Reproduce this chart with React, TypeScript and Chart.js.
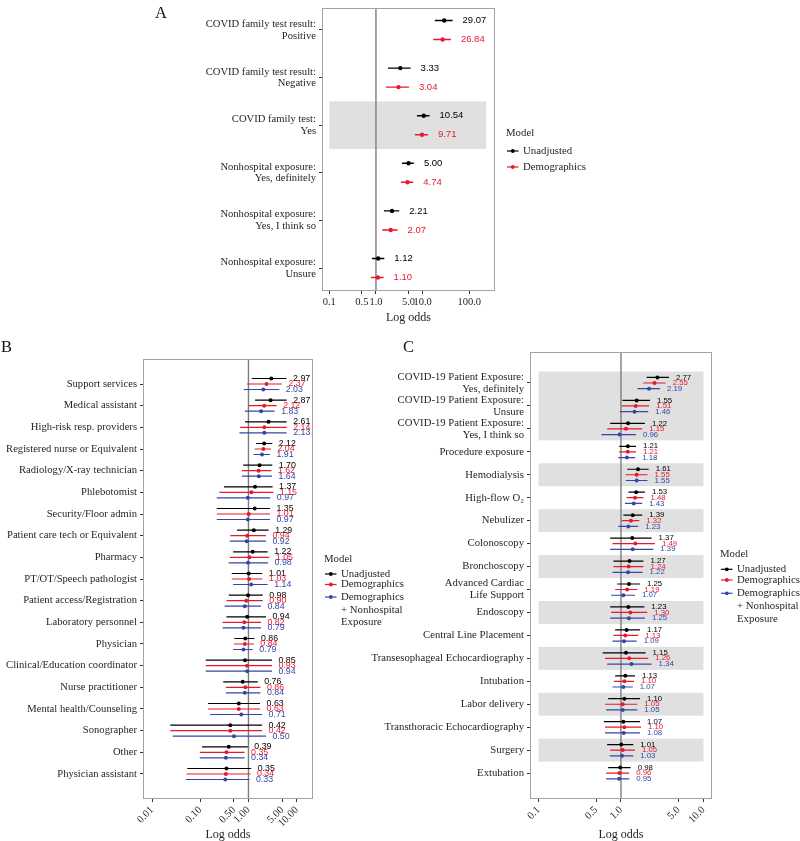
import React, { useEffect, useRef } from 'react';
import { Chart, registerables } from 'chart.js';
Chart.register(...registerables);

const SERIF = "'Liberation Serif', 'Times New Roman', serif";
const NARROW = "'Liberation Sans Narrow', 'Arial Narrow', 'Liberation Sans', sans-serif";
const TEXT = '#1f1f1f';
const BAND = '#E0E0E0';

// ---- series ----
const seriesNames = ['Unadjusted', 'Demographics', 'Demographics + Nonhospital Exposure'];
const seriesLegendLines = [['Unadjusted'], ['Demographics'], ['Demographics', '+ Nonhospital', 'Exposure']];
const seriesColors = ['#000000', '#E8192C', '#3646A6'];

// ---- Panel A ----
const aRows = [
  ['COVID family test result:', 'Positive'],
  ['COVID family test result:', 'Negative'],
  ['COVID family test:', 'Yes'],
  ['Nonhospital exposure:', 'Yes, definitely'],
  ['Nonhospital exposure:', 'Yes, I think so'],
  ['Nonhospital exposure:', 'Unsure'],
];
const aUnadjEst = [29.07, 3.33, 10.54, 5.0, 2.21, 1.12];
const aUnadjLo = [18.3, 1.81, 7.55, 3.6, 1.48, 0.82];
const aUnadjHi = [43.9, 5.53, 14.1, 6.5, 3.16, 1.51];
const aDemoEst = [26.84, 3.04, 9.71, 4.74, 2.07, 1.1];
const aDemoLo = [16.9, 1.64, 6.84, 3.43, 1.36, 0.78];
const aDemoHi = [40.4, 5.09, 13.0, 6.3, 2.91, 1.46];
const aTicks = [0.1, 0.5, 1, 5, 10, 100];
const aTickLabels = ['0.1', '0.5', '1.0', '5.0', '10.0', '100.0'];
const aBands: [number, number][] = [[2, 2]];
const aBandX: [number, number] = [0.1, 230];

// ---- Panel B ----
const bRows = [
  'Support services', 'Medical assistant', 'High-risk resp. providers', 'Registered nurse or Equivalent',
  'Radiology/X-ray technician', 'Phlebotomist', 'Security/Floor admin', 'Patient care tech or Equivalent',
  'Pharmacy', 'PT/OT/Speech pathologist', 'Patient access/Registration', 'Laboratory personnel', 'Physician',
  'Clinical/Education coordinator', 'Nurse practitioner', 'Mental health/Counseling', 'Sonographer', 'Other',
  'Physician assistant',
];
const bUnadjEst = [2.97, 2.87, 2.61, 2.12, 1.70, 1.37, 1.35, 1.29, 1.22, 1.01, 0.98, 0.94, 0.86, 0.85, 0.76, 0.63, 0.42, 0.39, 0.35];
const bUnadjLo = [1.17, 1.37, 0.85, 1.44, 0.78, 0.31, 0.22, 0.58, 0.48, 0.45, 0.39, 0.35, 0.51, 0.13, 0.30, 0.145, 0.024, 0.109, 0.054];
const bUnadjHi = [6.17, 6.2, 6.2, 3.12, 3.12, 3.17, 2.8, 2.62, 2.5, 1.94, 1.98, 2.31, 1.33, 3.08, 1.56, 1.74, 1.92, 0.97, 1.14];
const bDemoEst = [2.37, 2.12, 2.14, 2.04, 1.62, 1.15, 1.01, 0.94, 1.05, 1.03, 0.90, 0.82, 0.84, 0.93, 0.86, 0.63, 0.42, 0.35, 0.34];
const bDemoLo = [0.94, 1.0, 0.67, 1.35, 0.73, 0.25, 0.22, 0.42, 0.41, 0.45, 0.35, 0.29, 0.50, 0.13, 0.34, 0.145, 0.024, 0.098, 0.052];
const bDemoHi = [4.95, 3.84, 6.2, 2.93, 2.98, 3.28, 2.8, 2.31, 2.71, 1.96, 1.98, 1.82, 1.29, 3.08, 1.77, 1.74, 1.92, 0.83, 1.1];
const bNonhEst = [2.03, 1.83, 2.13, 1.91, 1.64, 0.97, 0.97, 0.92, 0.98, 1.14, 0.84, 0.79, 0.79, 0.94, 0.84, 0.71, 0.50, 0.34, 0.33];
const bNonhLo = [0.80, 0.84, 0.65, 1.27, 0.73, 0.22, 0.22, 0.41, 0.39, 0.48, 0.32, 0.29, 0.48, 0.13, 0.34, 0.16, 0.027, 0.098, 0.05];
const bNonhHi = [4.35, 3.49, 6.2, 2.8, 3.08, 2.84, 2.8, 2.31, 2.55, 2.5, 1.82, 1.82, 1.23, 3.08, 1.77, 1.92, 2.31, 0.83, 1.05];
const bTicks = [0.01, 0.1, 0.5, 1, 5, 10];
const bTickLabels = ['0.01', '0.10', '0.50', '1.00', '5.00', '10.00'];

// ---- Panel C ----
const cRows = [
  ['COVID-19 Patient Exposure:', 'Yes, definitely'],
  ['COVID-19 Patient Exposure:', 'Unsure'],
  ['COVID-19 Patient Exposure:', 'Yes, I think so'],
  'Procedure exposure', 'Hemodialysis', 'High-flow O\u2082', 'Nebulizer', 'Colonoscopy', 'Bronchoscopy',
  ['Advanced Cardiac', 'Life Support'], 'Endoscopy', 'Central Line Placement', 'Transesophageal Echocardiography',
  'Intubation', 'Labor delivery', 'Transthoracic Echocardiography', 'Surgery', 'Extubation',
];
const cUnadjEst = [2.77, 1.55, 1.22, 1.21, 1.61, 1.53, 1.39, 1.37, 1.27, 1.25, 1.23, 1.17, 1.15, 1.13, 1.10, 1.07, 1.01, 0.98];
const cUnadjLo = [2.05, 1.04, 0.74, 0.95, 1.19, 1.23, 1.07, 0.74, 0.81, 0.90, 0.74, 0.85, 0.60, 0.85, 0.70, 0.62, 0.68, 0.70];
const cUnadjHi = [3.82, 2.25, 1.95, 1.52, 2.17, 1.95, 1.81, 2.35, 1.87, 1.70, 1.92, 1.70, 1.99, 1.48, 1.70, 1.70, 1.41, 1.31];
const cDemoEst = [2.55, 1.51, 1.15, 1.21, 1.55, 1.48, 1.32, 1.49, 1.24, 1.19, 1.30, 1.13, 1.26, 1.10, 1.05, 1.10, 1.05, 0.96];
const cDemoLo = [1.87, 1.02, 0.68, 0.95, 1.14, 1.17, 1.02, 0.79, 0.81, 0.85, 0.76, 0.81, 0.64, 0.82, 0.64, 0.64, 0.74, 0.66];
const cDemoHi = [3.48, 2.2, 1.81, 1.52, 2.1, 1.87, 1.67, 2.58, 1.87, 1.58, 2.08, 1.62, 2.14, 1.44, 1.58, 1.75, 1.48, 1.26];
const cNonhEst = [2.19, 1.46, 0.96, 1.18, 1.55, 1.43, 1.23, 1.39, 1.22, 1.07, 1.25, 1.09, 1.34, 1.07, 1.05, 1.08, 1.03, 0.95];
const cNonhLo = [1.59, 0.97, 0.58, 0.93, 1.14, 1.12, 0.93, 0.74, 0.79, 0.76, 0.74, 0.79, 0.68, 0.79, 0.66, 0.64, 0.73, 0.66];
const cNonhHi = [2.97, 2.14, 1.52, 1.49, 2.1, 1.81, 1.62, 2.47, 1.83, 1.48, 1.95, 1.55, 2.35, 1.39, 1.58, 1.70, 1.41, 1.26];
const cTicks = [0.1, 0.5, 1, 5, 10];
const cTickLabels = ['0.1', '0.5', '1.0', '5.0', '10.0'];
const cBands: [number, number][] = [[0, 2], [4, 4], [6, 6], [8, 8], [10, 10], [12, 12], [14, 14], [16, 16]];
const cBandX: [number, number] = [0.1, 10];

type Series = { name: string; color: string; legend: string[]; est: number[]; lo: number[]; hi: number[]; offset: number };
type PanelSpec = {
  letter: string; letterPos: [number, number];
  canvas: { left: number; top: number; width: number; height: number };
  area: { left: number; top: number; right: number; bottom: number };
  rows: (string | string[])[];
  yRange: [number, number]; xRange: [number, number];
  ticks: number[]; tickLabels: string[]; rotation: number; tickFont: number;
  series: Series[];
  bands: [number, number][]; bandX: [number, number];
  labelFont: number; labelLH: number; valueFont: number; valueGap: number;
  pointR: number; ciWidth: number;
  titlePad: number;
  legend: { x: number; titleY: number; itemY: number[][] };
};

const mk = (i: number, est: number[], lo: number[], hi: number[], offset: number): Series => ({
  name: seriesNames[i], color: seriesColors[i], legend: seriesLegendLines[i], est, lo, hi, offset,
});

const panelA: PanelSpec = {
  letter: 'A', letterPos: [155, 18],
  canvas: { left: 0, top: 0, width: 800, height: 340 },
  area: { left: 322, top: 8, right: 495, bottom: 291 },
  rows: aRows, yRange: [-0.462, 5.483], xRange: [0.0698, 356],
  ticks: aTicks, tickLabels: aTickLabels, rotation: 0, tickFont: 10.5,
  series: [mk(0, aUnadjEst, aUnadjLo, aUnadjHi, -0.2), mk(1, aDemoEst, aDemoLo, aDemoHi, 0.2)],
  bands: aBands, bandX: aBandX,
  labelFont: 10.6, labelLH: 1.1, valueFont: 9.5, valueGap: 10,
  pointR: 2.2, ciWidth: 1.4, titlePad: 14.8,
  legend: { x: 506, titleY: 133, itemY: [[151], [167]] },
};

const panelB: PanelSpec = {
  letter: 'B', letterPos: [1, 352],
  canvas: { left: 0, top: 340, width: 420, height: 501 },
  area: { left: 143, top: 19, right: 313, bottom: 459 },
  rows: bRows, yRange: [-1.154, 19.154], xRange: [0.0065, 21.8],
  ticks: bTicks, tickLabels: bTickLabels, rotation: 45, tickFont: 10.5,
  series: [mk(0, bUnadjEst, bUnadjLo, bUnadjHi, -0.254), mk(1, bDemoEst, bDemoLo, bDemoHi, 0), mk(2, bNonhEst, bNonhLo, bNonhHi, 0.254)],
  bands: [], bandX: [0.1, 10],
  labelFont: 10.6, labelLH: 1.1, valueFont: 8.8, valueGap: 6.5,
  pointR: 2, ciWidth: 1.2, titlePad: -1,
  legend: { x: 324, titleY: 559, itemY: [[574], [584.5], [597, 610, 622.5]] },
};

const panelC: PanelSpec = {
  letter: 'C', letterPos: [403, 352],
  canvas: { left: 360, top: 340, width: 440, height: 501 },
  area: { left: 170, top: 12, right: 352, bottom: 459 },
  rows: cRows, yRange: [-1.35, 18.13], xRange: [0.0789, 12.7],
  ticks: cTicks, tickLabels: cTickLabels, rotation: 45, tickFont: 10.5,
  series: [mk(0, cUnadjEst, cUnadjLo, cUnadjHi, -0.24), mk(1, cDemoEst, cDemoLo, cDemoHi, 0), mk(2, cNonhEst, cNonhLo, cNonhHi, 0.25)],
  bands: cBands, bandX: cBandX,
  labelFont: 10.7, labelLH: 1.1, valueFont: 7.8, valueGap: 7,
  pointR: 2, ciWidth: 1.2, titlePad: -1,
  legend: { x: 720, titleY: 554.3, itemY: [[569.3], [580], [593.3, 606, 619]] },
};

function makeDecor(p: PanelSpec) {
  const ox = p.canvas.left;
  const oy = p.canvas.top;
  return {
    id: 'decor' + p.letter,
    beforeDatasetsDraw(chart: any) {
      const { ctx, chartArea: ca, scales } = chart;
      const x = scales.x;
      const y = scales.y;
      ctx.save();
      ctx.fillStyle = BAND;
      p.bands.forEach(([r0, r1]) => {
        const x0 = x.getPixelForValue(p.bandX[0]);
        const x1 = x.getPixelForValue(p.bandX[1]);
        const y0 = y.getPixelForValue(r0 - 0.5);
        const y1 = y.getPixelForValue(r1 + 0.5);
        ctx.fillRect(x0, y0, x1 - x0, y1 - y0);
      });
      const vx = x.getPixelForValue(1);
      ctx.strokeStyle = '#7d7d7d';
      ctx.lineWidth = 1.4;
      ctx.beginPath();
      ctx.moveTo(vx, ca.top);
      ctx.lineTo(vx, ca.bottom);
      ctx.stroke();
      ctx.restore();
    },
    afterDatasetsDraw(chart: any) {
      const { ctx, scales } = chart;
      const x = scales.x;
      const y = scales.y;
      ctx.save();
      ctx.font = `${p.valueFont}px ${NARROW}`;
      ctx.textBaseline = 'middle';
      ctx.textAlign = 'left';
      p.series.forEach((s) => {
        ctx.fillStyle = s.color;
        s.est.forEach((v, i) => {
          ctx.fillText(v.toFixed(2), x.getPixelForValue(s.hi[i]) + p.valueGap, y.getPixelForValue(i + s.offset));
        });
      });
      ctx.restore();
    },
    afterDraw(chart: any) {
      const { ctx, chartArea: ca } = chart;
      ctx.save();
      ctx.strokeStyle = '#a3a3a3';
      ctx.lineWidth = 1;
      ctx.strokeRect(ca.left + 0.5, ca.top + 0.5, ca.right - ca.left - 1, ca.bottom - ca.top - 1);
      // legend
      const lx = p.legend.x - ox;
      ctx.fillStyle = TEXT;
      ctx.textBaseline = 'middle';
      ctx.textAlign = 'left';
      ctx.font = `10.8px ${SERIF}`;
      ctx.fillText('Model', lx, p.legend.titleY - oy);
      p.series.forEach((s, i) => {
        const ys = p.legend.itemY[i];
        const sy = ys[0] - oy;
        ctx.strokeStyle = s.color;
        ctx.lineWidth = 1.2;
        ctx.beginPath();
        ctx.moveTo(lx + 1, sy);
        ctx.lineTo(lx + 12.5, sy);
        ctx.stroke();
        ctx.fillStyle = s.color;
        ctx.beginPath();
        ctx.arc(lx + 6.8, sy, 1.9, 0, Math.PI * 2);
        ctx.fill();
        ctx.fillStyle = TEXT;
        s.legend.forEach((line, j) => {
          ctx.fillText(line, lx + 17, ys[j] - oy);
        });
      });
      // panel letter
      ctx.font = `16.5px ${SERIF}`;
      ctx.textBaseline = 'alphabetic';
      ctx.fillStyle = '#111';
      ctx.fillText(p.letter, p.letterPos[0] - ox, p.letterPos[1] - oy);
      ctx.restore();
    },
  };
}

function buildConfig(p: PanelSpec): any {
  const datasets: any[] = [];
  p.series.forEach((s) => {
    datasets.push({
      type: 'line',
      label: s.name + ' CI',
      data: p.rows.flatMap((_, i) => [
        { x: s.lo[i], y: i + s.offset },
        { x: s.hi[i], y: i + s.offset },
        { x: NaN, y: NaN },
      ]),
      borderColor: s.color,
      borderWidth: p.ciWidth,
      pointRadius: 0,
      pointHoverRadius: 0,
      fill: false,
      spanGaps: false,
      tension: 0,
    });
    datasets.push({
      type: 'scatter',
      label: s.name,
      data: s.est.map((v, i) => ({ x: v, y: i + s.offset })),
      backgroundColor: s.color,
      borderColor: s.color,
      borderWidth: 0,
      pointRadius: p.pointR,
      pointHoverRadius: p.pointR,
    });
  });
  const yWidth = p.area.left;
  const xHeight = p.canvas.height - p.area.bottom;
  const gridOpts = { display: true, drawOnChartArea: false, drawTicks: true, tickLength: 3, tickColor: '#333', tickWidth: 1 };
  return {
    type: 'scatter',
    data: { datasets },
    options: {
      responsive: false,
      animation: false,
      events: [],
      layout: { padding: { left: 0, top: p.area.top, right: p.canvas.width - p.area.right, bottom: 0 } },
      plugins: { legend: { display: false }, tooltip: { enabled: false }, title: { display: false } },
      scales: {
        x: {
          type: 'logarithmic',
          min: p.xRange[0],
          max: p.xRange[1],
          bounds: 'data',
          afterBuildTicks: (sc: any) => {
            sc.ticks = p.ticks.map((v) => ({ value: v }));
          },
          afterFit: (sc: any) => {
            sc.height = xHeight;
            sc.paddingLeft = 0;
            sc.paddingRight = 0;
          },
          ticks: {
            autoSkip: false,
            minRotation: p.rotation,
            maxRotation: p.rotation,
            padding: 2,
            color: TEXT,
            font: { family: SERIF, size: p.tickFont },
            callback: (_v: any, i: number) => p.tickLabels[i],
          },
          grid: gridOpts,
          border: { display: false },
          title: {
            display: true,
            text: 'Log odds',
            color: TEXT,
            font: { family: SERIF, size: 12 },
            padding: { top: 0, bottom: p.titlePad },
          },
        },
        y: {
          type: 'linear',
          reverse: true,
          min: p.yRange[0],
          max: p.yRange[1],
          bounds: 'data',
          afterBuildTicks: (sc: any) => {
            sc.ticks = p.rows.map((_, i) => ({ value: i }));
          },
          afterFit: (sc: any) => {
            sc.width = yWidth;
            sc.paddingTop = 0;
            sc.paddingBottom = 0;
          },
          ticks: {
            autoSkip: false,
            padding: 3,
            color: TEXT,
            font: { family: SERIF, size: p.labelFont, lineHeight: p.labelLH },
            callback: (_v: any, i: number) => p.rows[i],
          },
          grid: gridOpts,
          border: { display: false },
        },
      },
    },
    plugins: [makeDecor(p)],
  };
}

function Panel({ spec }: { spec: PanelSpec }) {
  const ref = useRef<HTMLCanvasElement>(null);
  useEffect(() => {
    const chart = new Chart(ref.current as HTMLCanvasElement, buildConfig(spec));
    return () => chart.destroy();
  }, [spec]);
  return (
    <canvas
      ref={ref}
      width={spec.canvas.width}
      height={spec.canvas.height}
      style={{
        position: 'absolute',
        left: spec.canvas.left,
        top: spec.canvas.top,
        width: spec.canvas.width,
        height: spec.canvas.height,
      }}
    />
  );
}

export default function App() {
  return (
    <div style={{ position: 'absolute', left: 0, top: 0, width: 800, height: 841, background: '#ffffff', overflow: 'hidden' }}>
      <Panel spec={panelA} />
      <Panel spec={panelB} />
      <Panel spec={panelC} />
    </div>
  );
}
